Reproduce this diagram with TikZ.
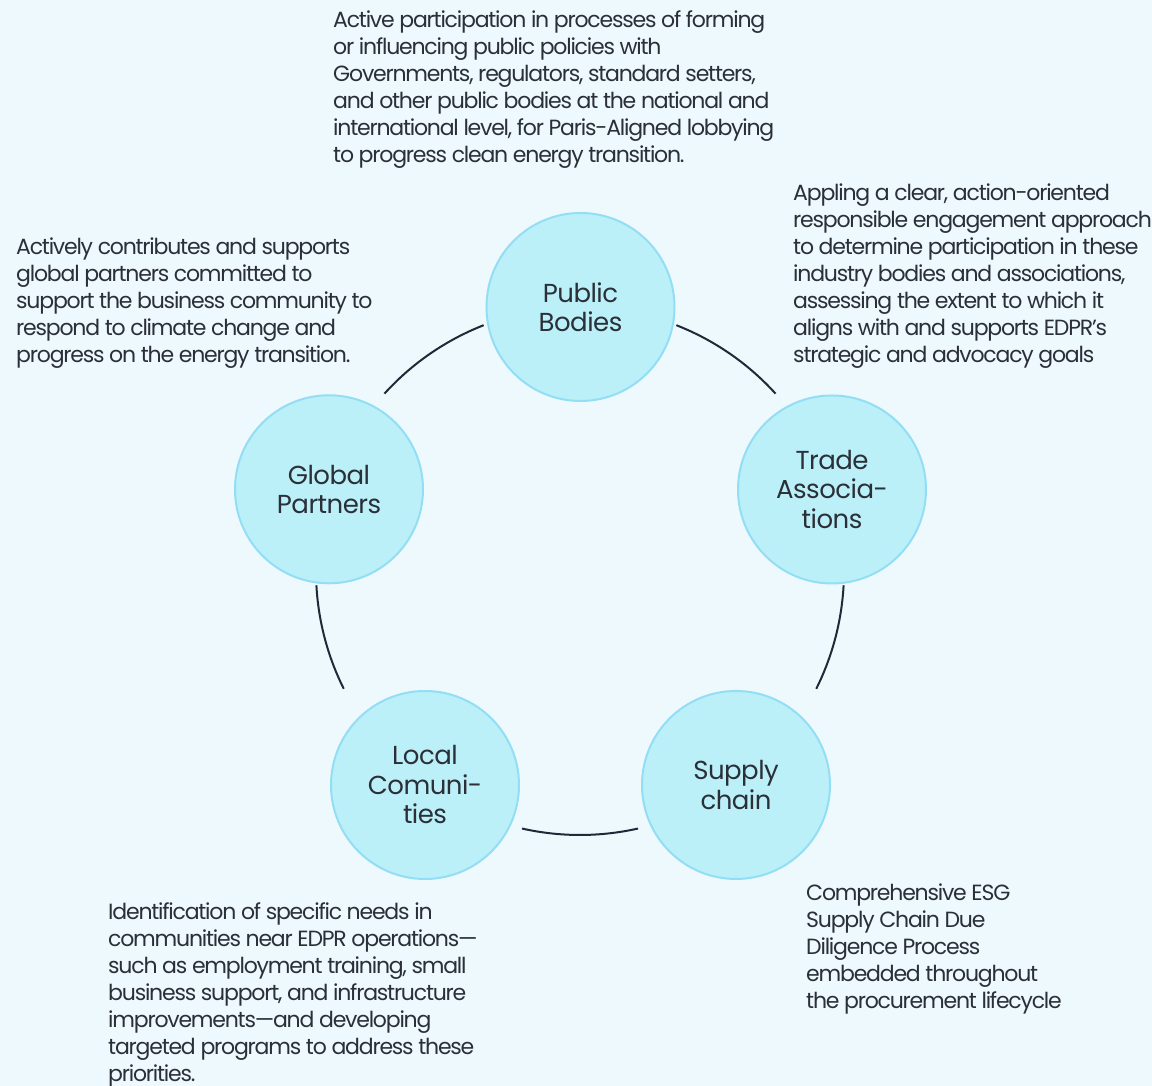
\documentclass[tikz,border=0pt]{standalone}
\usepackage{fontspec}
\setmainfont{Poppins}
\newfontfamily\bodyfam[LetterSpace=-5.5]{Poppins}
\newfontfamily\labelfam[LetterSpace=-2]{Poppins}
\usetikzlibrary{calc}

\definecolor{bg}{HTML}{EEF9FD}
\definecolor{bubblefill}{HTML}{BBF0F8}
\definecolor{bubbleedge}{HTML}{93DEF5}
\definecolor{ink}{HTML}{2A2F38}
\definecolor{linkc}{HTML}{1F2A38}

\tikzset{
  bubble/.style={circle, draw=bubbleedge, fill=bubblefill, line width=2pt,
    minimum size=188pt, inner sep=0pt, align=center, text=ink,
    font=\labelfam\fontsize{26}{29.5}\selectfont},
  desc/.style={anchor=north west, inner sep=0pt, align=left, text=ink,
    font=\bodyfam\fontsize{22}{27}\selectfont},
  link/.style={draw=linkc, line width=2pt},
}

\begin{document}
\begin{tikzpicture}[x=1pt,y=1pt]
  % canvas
  \fill[bg] (0,0) rectangle (1152,1086);
  \useasboundingbox (0,0) rectangle (1152,1086);

  % ring centre
  \coordinate (O) at (580,515);

  % stakeholder bubbles
  \node[bubble] (pub) at (580.5,779) {Public\\Bodies};
  \node[bubble] (trade) at (832,596.5) {Trade\\Associa-\\tions};
  \node[bubble] (supply) at (736,301) {Supply\\chain};
  \node[bubble] (local) at (425,301) {Local\\Comuni-\\ties};
  \node[bubble] (glob) at (329,596.7) {Global\\Partners};

  % ring segments between bubbles
  \draw[link] (O) ++(68.6:264) arc[start angle=68.6, end angle=42.2, radius=264];
  \draw[link] (O) ++(-3.1:264) arc[start angle=-3.1, end angle=-26.5, radius=264];
  \draw[link] (O) ++(-77.3:264) arc[start angle=-77.3, end angle=-102.7, radius=264];
  \draw[link] (O) ++(206.5:264) arc[start angle=206.5, end angle=183.1, radius=264];
  \draw[link] (O) ++(137.8:264) arc[start angle=137.8, end angle=111.4, radius=264];

  % descriptions
  \node[desc] (pubtxt) at (333,1077.9) {\strut Active participation in processes of forming\\
    or influencing public policies with\\
    Governments, regulators, standard setters,\\
    and other public bodies at the national and\\
    international level, for Paris-Aligned lobbying\\
    to progress clean energy transition.};

  \node[desc] (tradetxt) at (793,904.9) {\strut Appling a clear, action-oriented\\
    responsible engagement approach\\
    to determine participation in these\\
    industry bodies and associations,\\
    assessing the extent to which it\\
    aligns with and supports EDPR’s\\
    strategic and advocacy goals};

  \node[desc] (globtxt) at (16,850.9) {\strut Actively contributes and supports\\
    global partners committed to\\
    support the business community to\\
    respond to climate change and\\
    progress on the energy transition.};

  \node[desc] (localtxt) at (108,185.9) {\strut Identification of specific needs in\\
    communities near EDPR operations—\\
    such as employment training, small\\
    business support, and infrastructure\\
    improvements—and developing\\
    targeted programs to address these\\
    priorities.};

  \node[desc] (supplytxt) at (806,204.9) {\strut Comprehensive ESG\\
    Supply Chain Due\\
    Diligence Process\\
    embedded throughout\\
    the procurement lifecycle};
\end{tikzpicture}
\end{document}
